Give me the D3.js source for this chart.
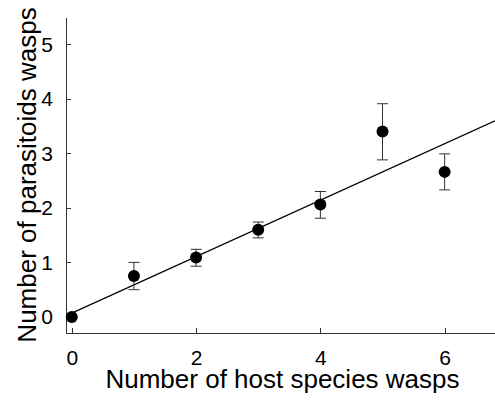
<!DOCTYPE html>
<meta charset="utf-8">
<style>
  body { margin: 0; background: #fff; }
  text { font-family: "Liberation Sans", Arial, sans-serif; fill: #000; }
  .axis path, .axis line { stroke: #333; stroke-width: 1px; shape-rendering: crispEdges; }
  .axis text { font-size: 21px; }
  .title { font-size: 26px; }
  .err { stroke: #333; stroke-width: 1px; fill: none; }
  .fit { stroke: #000; stroke-width: 1.2px; fill: none; }
</style>
<script src="https://d3js.org/d3.v7.min.js"></script>
<div id="chart"></div>
<script>
  // data
  var hosts = [0, 1, 2, 3, 4, 5, 6]
  var parasitoids = [0, 0.75, 1.09, 1.60, 2.06, 3.40, 2.66]
  var errLow = [0, 0.50, 0.93, 1.45, 1.81, 2.88, 2.33]
  var errHigh = [0, 1.00, 1.24, 1.74, 2.30, 3.91, 2.99]
  var xTicks = [0, 2, 4, 6]
  var yTicks = [0, 1, 2, 3, 4, 5]
  var fitIntercept = 0.07, fitSlope = 0.518

  var width = 495, height = 400

  var svg = d3.select("#chart")
    .append("svg")
      .attr("width", width)
      .attr("height", height)

  var x = d3.scaleLinear()
    .domain([-0.093, 6.81])
    .range([66, 495])

  var y = d3.scaleLinear()
    .domain([-0.3, 5.5])
    .range([333.3, 17])

  svg.append("g")
    .attr("class", "axis")
    .attr("transform", "translate(66,0)")
    .call(d3.axisLeft(y).tickValues(yTicks).tickFormat(d3.format("d"))
      .tickSize(-5).tickSizeOuter(0).tickPadding(13))

  svg.append("g")
    .attr("class", "axis")
    .attr("transform", "translate(0,333.3)")
    .call(d3.axisBottom(x).tickValues(xTicks).tickFormat(d3.format("d"))
      .tickSize(-5).tickSizeOuter(0).tickPadding(17))

  // regression line
  var xEnd = x.domain()[1]
  svg.append("line")
    .attr("class", "fit")
    .attr("x1", x(0))
    .attr("y1", y(fitIntercept))
    .attr("x2", x(xEnd))
    .attr("y2", y(fitIntercept + fitSlope * xEnd))

  var data = hosts.map(function(h, i) {
    return {x: h, y: parasitoids[i], lo: errLow[i], hi: errHigh[i]}
  })

  var bars = svg.append("g")
    .selectAll("g")
    .data(data.filter(function(d) { return d.hi > d.lo }))
    .enter().append("g")
      .attr("class", "err")

  bars.append("line")
    .attr("x1", function(d) { return x(d.x) })
    .attr("x2", function(d) { return x(d.x) })
    .attr("y1", function(d) { return y(d.lo) })
    .attr("y2", function(d) { return y(d.hi) })
  bars.append("line")
    .attr("x1", function(d) { return x(d.x) - 5.5 })
    .attr("x2", function(d) { return x(d.x) + 5.5 })
    .attr("y1", function(d) { return y(d.hi) })
    .attr("y2", function(d) { return y(d.hi) })
  bars.append("line")
    .attr("x1", function(d) { return x(d.x) - 5.5 })
    .attr("x2", function(d) { return x(d.x) + 5.5 })
    .attr("y1", function(d) { return y(d.lo) })
    .attr("y2", function(d) { return y(d.lo) })

  svg.append("g")
    .selectAll("circle")
    .data(data)
    .enter().append("circle")
      .attr("cx", function(d) { return x(d.x) })
      .attr("cy", function(d) { return y(d.y) })
      .attr("r", 6)
      .attr("fill", "#000")

  svg.append("text")
    .attr("class", "title")
    .attr("x", 282.5)
    .attr("y", 388)
    .attr("text-anchor", "middle")
    .text("Number of host species wasps")

  svg.append("text")
    .attr("class", "title")
    .attr("transform", "translate(36,175) rotate(-90)")
    .attr("text-anchor", "middle")
    .text("Number of parasitoids wasps")
</script>
